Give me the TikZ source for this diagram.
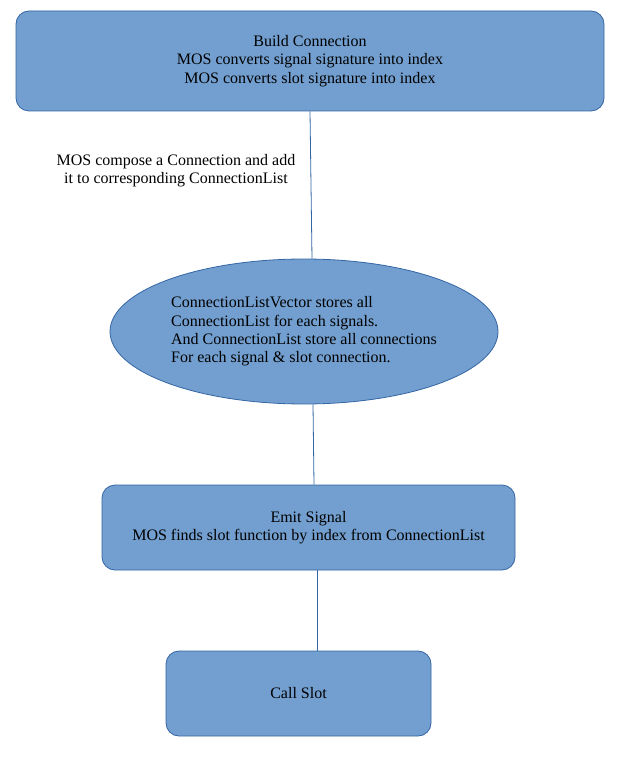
\documentclass[tikz,border=0pt]{standalone}
\usepackage{fontspec}
\setmainfont{Liberation Serif}
\usetikzlibrary{shapes.geometric}
\definecolor{boxfill}{HTML}{729FCF}
\definecolor{boxline}{HTML}{3465A4}
\tikzset{
    process/.style={
    rectangle,rounded corners=13pt,draw=boxline,fill=boxfill,line width=0.8pt,align=center,inner sep=0pt
    },
    storage/.style={
    ellipse,draw=boxline,fill=boxfill,line width=0.8pt,align=left,inner sep=0pt
    },
    note/.style={
    align=center,inner sep=0pt
    },
    link/.style={
    draw=boxline,line width=0.8pt
    },
}

\begin{document}
\begin{tikzpicture}[x=1pt, y=-1pt, font=\fontsize{16}{18.4}\selectfont]
   \useasboundingbox (0,0) rectangle (617,759);

   %boxes
   \node[process,minimum width=588pt,minimum height=100pt] (build) at (310,61)
        {Build Connection\\MOS converts signal signature into index\\MOS converts slot signature into index};
   \node[storage,minimum width=388pt,minimum height=145pt] (store) at (304,331.5)
        {ConnectionListVector stores all\\ConnectionList for each signals.\\And ConnectionList store all connections\\For each signal \& slot connection.};
   \node[process,minimum width=413pt,minimum height=85pt] (emit) at (308.5,527.5)
        {Emit Signal\\MOS finds slot function by index from ConnectionList};
   \node[process,minimum width=265pt,minimum height=85pt] (call) at (298.5,693.5) {Call Slot};

   %label
   \node[note] (compose) at (176,170.5) {MOS compose a Connection and add\\it to corresponding ConnectionList};

  \path[link]
    (build.south) edge ([xshift=8pt]store.north)
    ([xshift=9pt]store.south) edge ([xshift=5.5pt]emit.north)
    ([xshift=8.5pt]emit.south) edge ([xshift=18.5pt]call.north);
\end{tikzpicture}
\end{document}
